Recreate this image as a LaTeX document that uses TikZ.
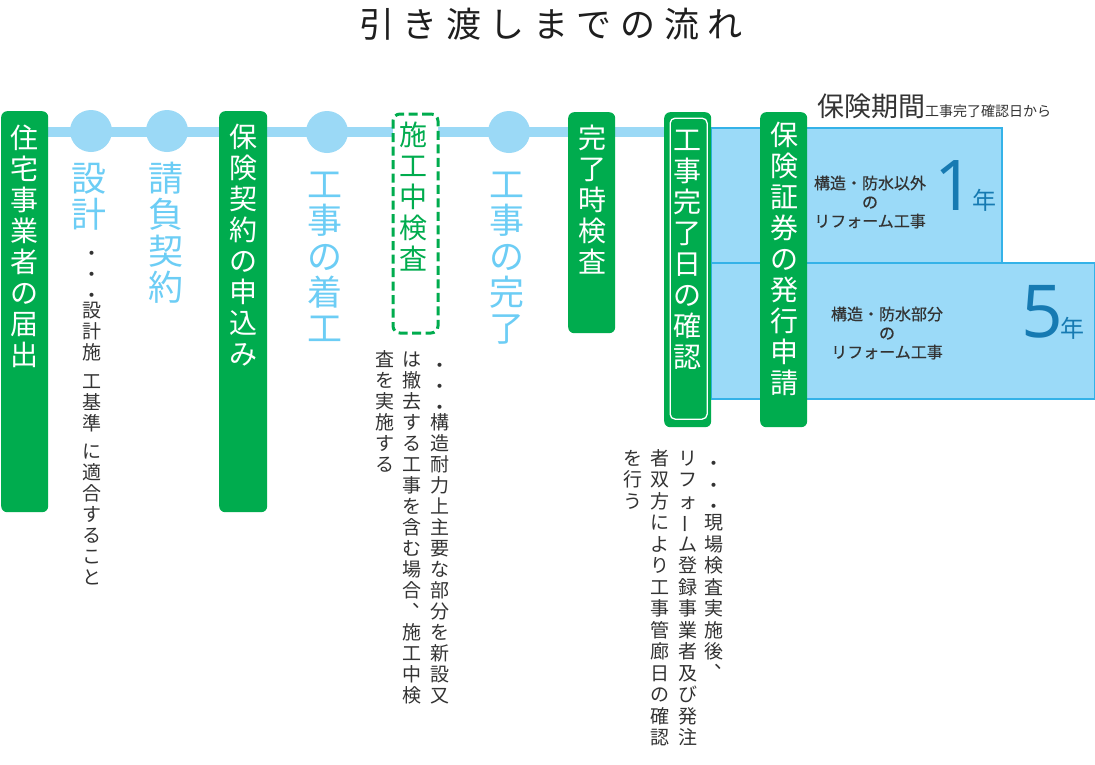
\documentclass[tikz,border=0pt]{standalone}
\usepackage{fontspec}
\usepackage{graphicx}
\setmainfont{Noto Sans CJK JP}
\newfontfamily\numfont{Open Sans}
\newfontfamily\jpsemibold[FakeBold=0.6]{Noto Sans CJK JP}
\definecolor{mygreen}{RGB}{0,172,78}
\definecolor{tlblue}{RGB}{155,217,246}
\definecolor{panelfill}{RGB}{155,218,248}
\definecolor{paneldraw}{RGB}{52,178,232}
\definecolor{lbtext}{RGB}{108,205,245}
\definecolor{numblue}{RGB}{22,122,178}
\definecolor{darktext}{RGB}{51,51,51}
\definecolor{titlecol}{RGB}{30,30,30}
% vertical text columns
\newdimen\vpitch
\def\vstop{\vstop}
\def\vgap{\vgap}
\newcommand\vcolumn[2]{\vbox{\offinterlineskip\vpitch=#1\relax\vloop#2\vstop}}
\def\vloop#1{%
  \ifx\vstop#1\else
    \ifx\vgap#1\vskip.35\vpitch\else
      \hbox to 1em{\hss\vbox to\vpitch{\vss\hbox{\vrule height.88em depth.12em width0pt\relax#1}\vss}\hss}%
    \fi
    \expandafter\vloop
  \fi}
\newcommand\vdt{\makebox[1em][c]{\smash{\raisebox{-.3em}{・}}}}
\newcommand\vcm{\makebox[1em][l]{\smash{\kern.55em\raisebox{.62em}{\makebox[0pt][l]{、}}}}}
\newcommand\vbar{\rotatebox[origin=c]{90}{ー}}
\tikzset{
  gbox/.style={fill=mygreen, rounded corners=6pt, inner sep=0pt, draw=none, anchor=north west},
  dbox/.style={fill=white, draw=mygreen, line width=3pt, dash pattern=on 9pt off 4.5pt, rounded corners=7pt, inner sep=0pt, anchor=north west},
  panel/.style={fill=panelfill, draw=paneldraw, line width=1.5pt, inner sep=0pt, anchor=north west},
  dot/.style={circle, fill=tlblue, minimum size=42pt, inner sep=0pt, draw=none},
  tline/.style={draw=tlblue, line width=10pt},
  wlab/.style={anchor=north, inner sep=0pt, text=white, font=\fontsize{28}{30}\selectfont},
  glab/.style={anchor=north, inner sep=0pt, text=mygreen, font=\fontsize{28}{30}\selectfont},
  blab/.style={anchor=north, inner sep=0pt, text=lbtext, font=\fontsize{35}{38}\selectfont},
  nlab/.style={anchor=north, inner sep=0pt, text=darktext, font=\fontsize{19}{21}\selectfont},
  ptext/.style={align=center, inner sep=0pt, text=darktext, font=\jpsemibold\fontsize{16}{19}\selectfont},
  bignum/.style={anchor=base, inner sep=0pt, text=numblue},
  yearlab/.style={inner sep=0pt, text=numblue, font=\fontsize{24}{26}\selectfont}
}
\begin{document}
\begin{tikzpicture}[x=1pt,y=-1pt]
\useasboundingbox[fill=white] (0,0) rectangle (1095,764);
% title
\node[inner sep=0pt, text=titlecol, font=\fontsize{35}{40}\selectfont] (title) at (551,24)
  {引\kern8.5pt き\kern8.5pt 渡\kern8.5pt し\kern8.5pt ま\kern8.5pt で\kern8.5pt の\kern8.5pt 流\kern8.5pt れ};
% timeline
\coordinate (tlA) at (24,132);
\coordinate (tlB) at (700,132);
\draw[tline] (tlA) -- (tlB);
% insurance panels
\node[panel, minimum width=291pt, minimum height=135pt] (p1) at (710,127) {};
\node[panel, minimum width=384pt, minimum height=136pt] (p2) at (710,262) {};
% milestone circles
\node[dot] (c1) at (91,131) {};
\node[dot] (c2) at (167,131) {};
\node[dot] (c3) at (327,132) {};
\node[dot] (c4) at (509,132) {};
% boxes
\node[gbox, minimum width=47pt, minimum height=401pt] (b1) at (1,111) {};
\node[gbox, minimum width=48pt, minimum height=401pt] (b2) at (219,111) {};
\node[dbox, minimum width=45pt, minimum height=219pt] (b3) at (391.5,112.5) {};
\node[gbox, minimum width=47pt, minimum height=221pt] (b4) at (568,112) {};
\node[gbox, minimum width=47pt, minimum height=315pt] (b5) at (664,112) {};
\node[draw=white, line width=1.3pt, rounded corners=5pt, inner sep=0pt, anchor=north west,
      minimum width=37pt, minimum height=301pt] (b5i) at (669.5,117.5) {};
\node[gbox, minimum width=47pt, minimum height=315pt] (b6) at (760,112) {};
% step labels
\node[wlab] (l1) at (24.5,122) {\vcolumn{31pt}{住宅事業者の届出}};
\node[blab] (l2) at (89,159.5) {\vcolumn{36.5pt}{設計}};
\node[blab] (l3) at (166,159.5) {\vcolumn{36.5pt}{請負契約}};
\node[wlab] (l4) at (243,121) {\vcolumn{31pt}{保険契約の申込み}};
\node[blab] (l5) at (325,165.5) {\vcolumn{36pt}{工事の着工}};
\node[glab] (l6) at (413,119.5) {\vcolumn{31pt}{施工中検査}};
\node[blab] (l7) at (507,165.5) {\vcolumn{36pt}{工事の完了}};
\node[wlab] (l8) at (592,122) {\vcolumn{31pt}{完了時検査}};
\node[wlab] (l9) at (687,124) {\vcolumn{31pt}{工事完了日の確認}};
\node[wlab] (l10) at (784,119) {\vcolumn{31pt}{保険証券の発行申請}};
% notes
\node[nlab] (n1) at (92,237) {\vcolumn{21pt}{\vdt \vdt \vdt 設計施\vgap 工基準\vgap に適合すること}};
\node[nlab] (n2a) at (440,349) {\vcolumn{21pt}{\vdt \vdt \vdt 構造耐力上主要な部分を新設又}};
\node[nlab] (n2b) at (412,349) {\vcolumn{21pt}{は撤去する工事を含む場合\vcm 施工中検}};
\node[nlab] (n2c) at (385,349) {\vcolumn{21pt}{査を実施する}};
\node[nlab] (n3a) at (714,447) {\vcolumn{21.5pt}{\vdt \vdt \vdt 現場検査実施後\vcm}};
\node[nlab] (n3b) at (688,447) {\vcolumn{21.5pt}{リフォ\vbar ム登録事業者及び発注}};
\node[nlab] (n3c) at (660,447) {\vcolumn{21.5pt}{者双方により工事管廊日の確認}};
\node[nlab] (n3d) at (633,447) {\vcolumn{21.5pt}{を行う}};
% insurance period
\node[anchor=base west, inner sep=0pt, text=darktext] (hk) at (817,116)
  {{\fontsize{27}{30}\selectfont 保険期間}{\fontsize{14}{16}\selectfont 工事完了確認日から}};
\node[ptext] (pt1) at (870,202) {構造・防水以外\\の\\リフォーム工事};
\node[ptext] (pt2) at (887,333) {構造・防水部分\\の\\リフォーム工事};
\node[bignum, font=\numfont\fontsize{70}{70}\selectfont] (one) at (955,210) {1};
\node[yearlab] (y1) at (984,200) {年};
\node[bignum, font=\numfont\fontsize{73}{73}\selectfont] (five) at (1042,337) {5};
\node[yearlab] (y5) at (1072,328) {年};
\end{tikzpicture}
\end{document}
